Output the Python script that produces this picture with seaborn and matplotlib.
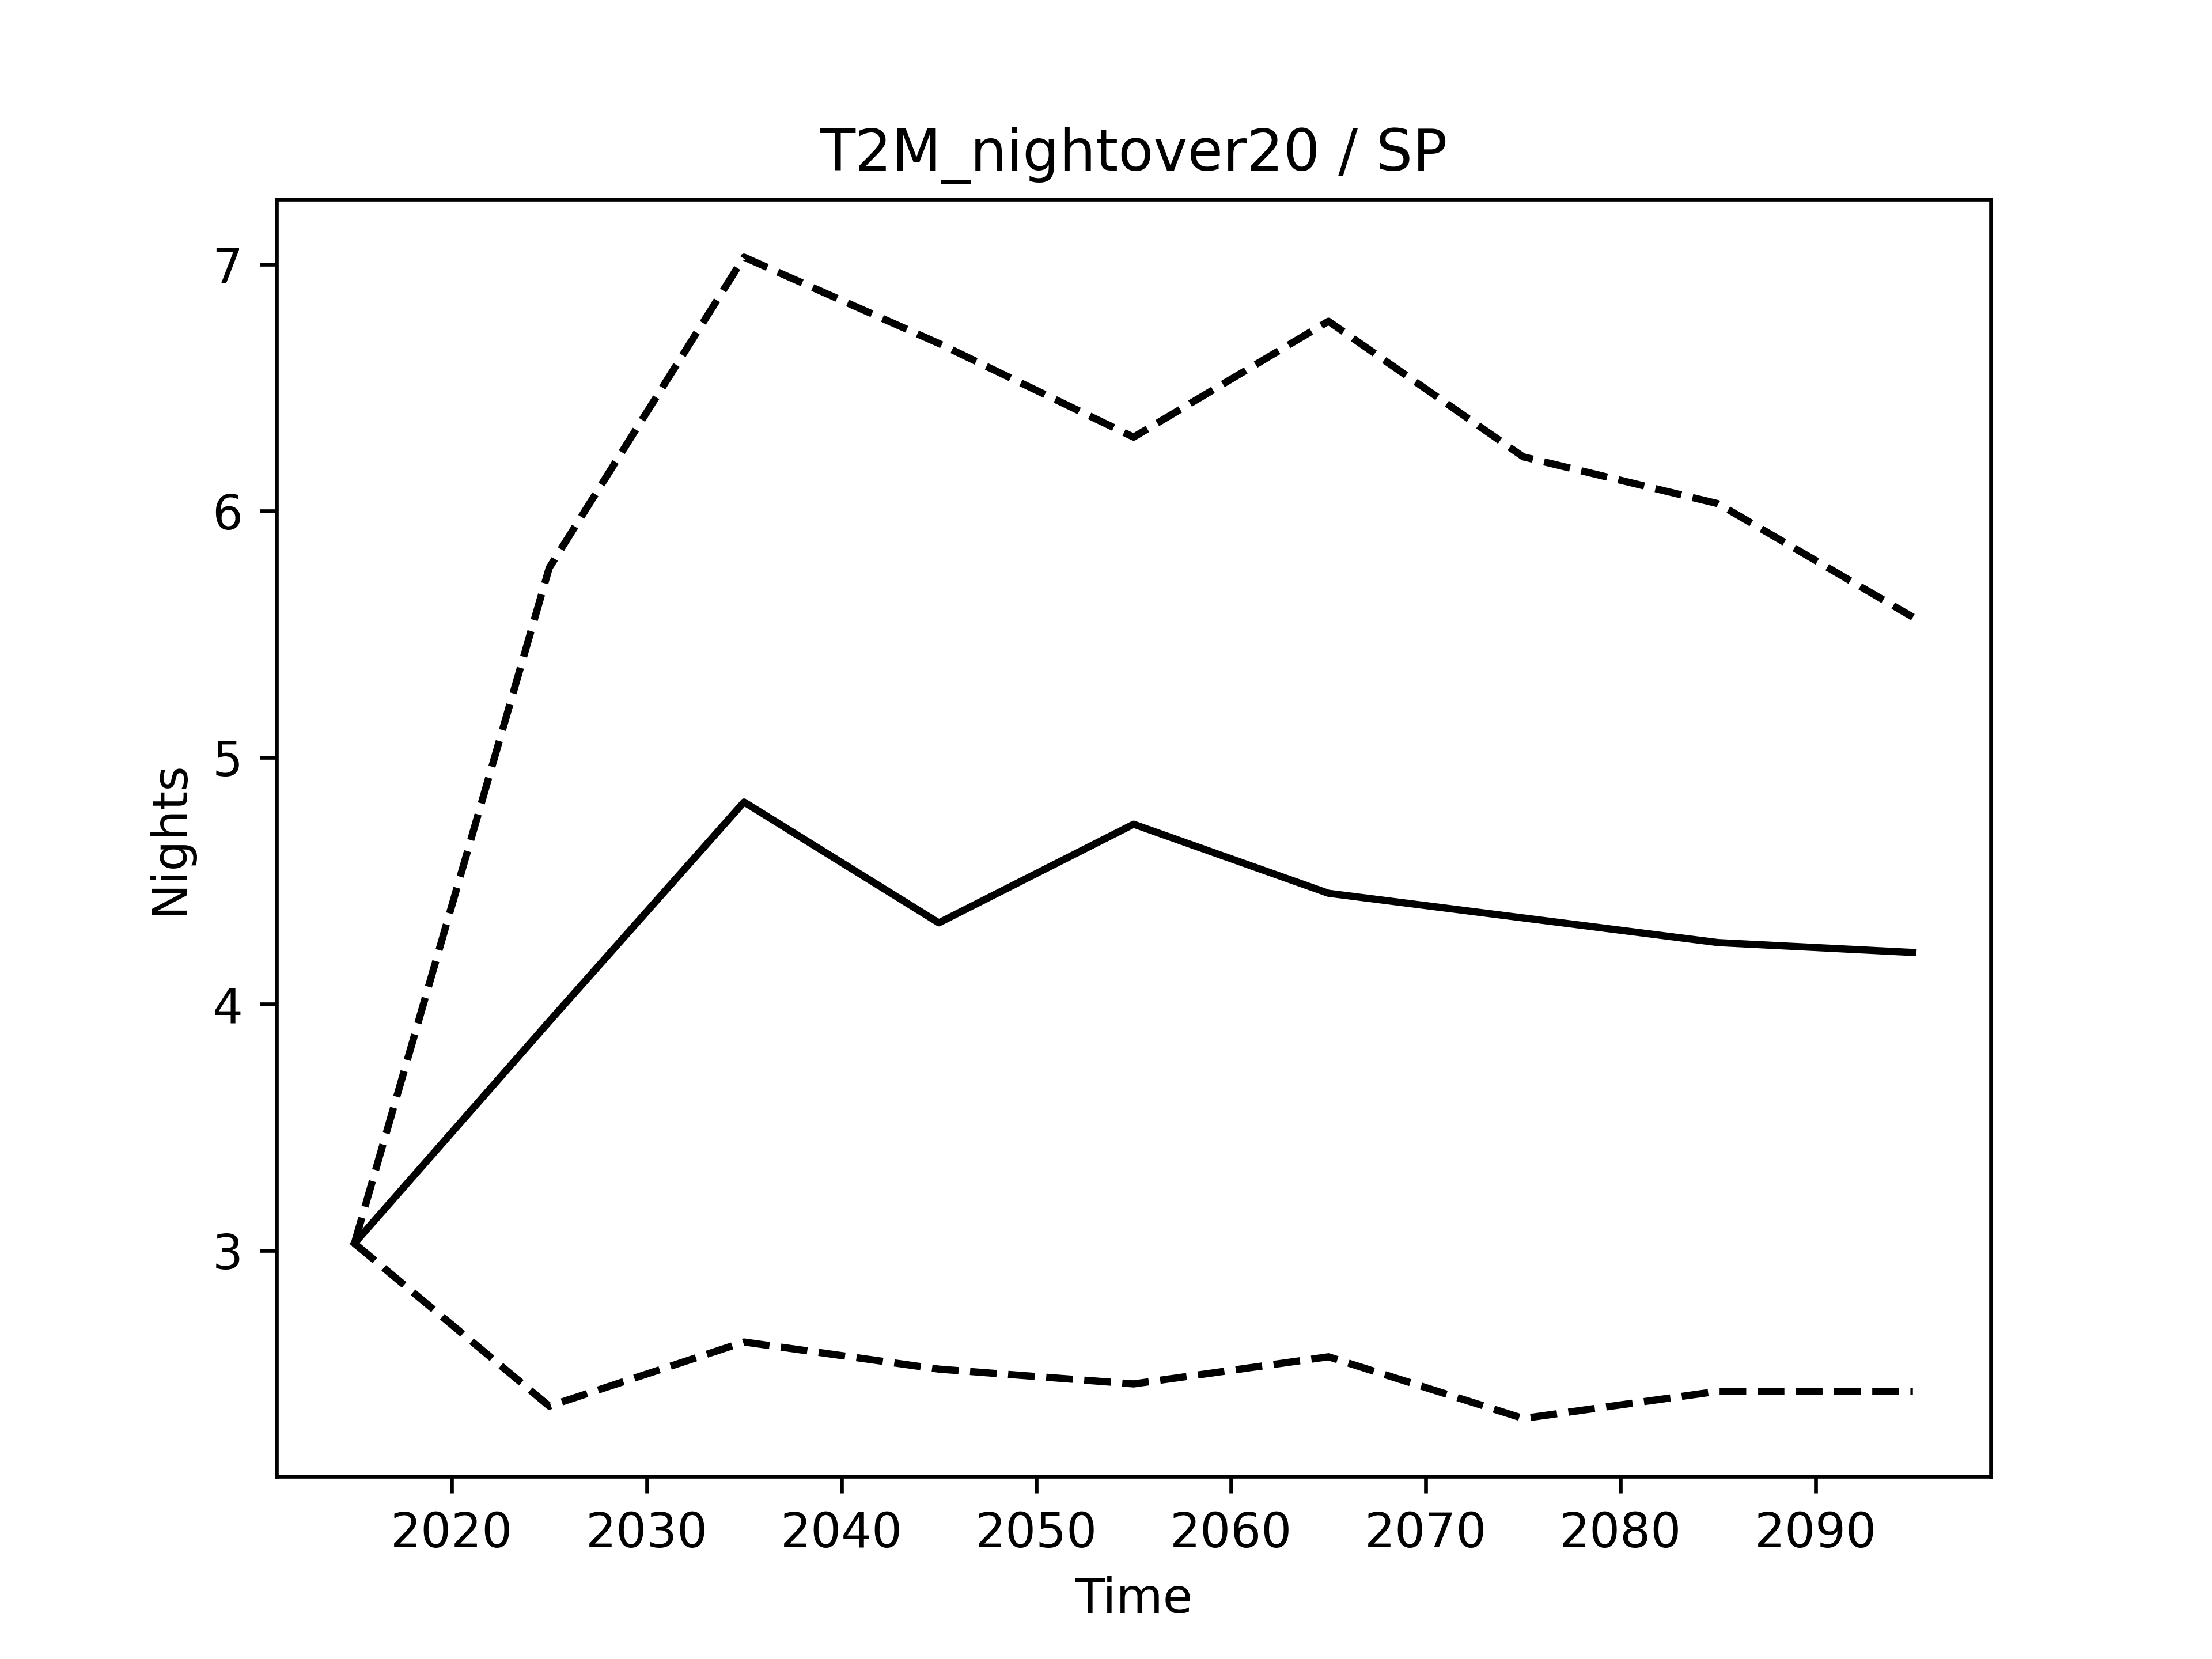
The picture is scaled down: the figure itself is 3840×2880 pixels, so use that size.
import matplotlib
matplotlib.use("Agg")
import matplotlib.pyplot as plt
import seaborn as sns

# Decadal values
years = [2015, 2025, 2035, 2045, 2055, 2065, 2075, 2085, 2095]
mean_nights = [3.03, 3.93, 4.82, 4.33, 4.73, 4.45, 4.35, 4.25, 4.21]
upper_nights = [3.03, 5.77, 7.03, 6.68, 6.30, 6.77, 6.22, 6.03, 5.57]
lower_nights = [3.03, 2.37, 2.63, 2.52, 2.46, 2.57, 2.32, 2.43, 2.43]

fig, ax = plt.subplots(figsize=(6.4, 4.8), dpi=600)

sns.lineplot(x=years, y=upper_nights, color="black", linestyle="--", ax=ax)
sns.lineplot(x=years, y=mean_nights, color="black", linestyle="-", ax=ax)
sns.lineplot(x=years, y=lower_nights, color="black", linestyle="--", ax=ax)

ax.set_title("T2M_nightover20 / SP")
ax.set_xlabel("Time")
ax.set_ylabel("Nights")
ax.set_xticks([2020, 2030, 2040, 2050, 2060, 2070, 2080, 2090])
ax.set_yticks([3, 4, 5, 6, 7])

fig.savefig("out.png", dpi=600)
plt.close(fig)
